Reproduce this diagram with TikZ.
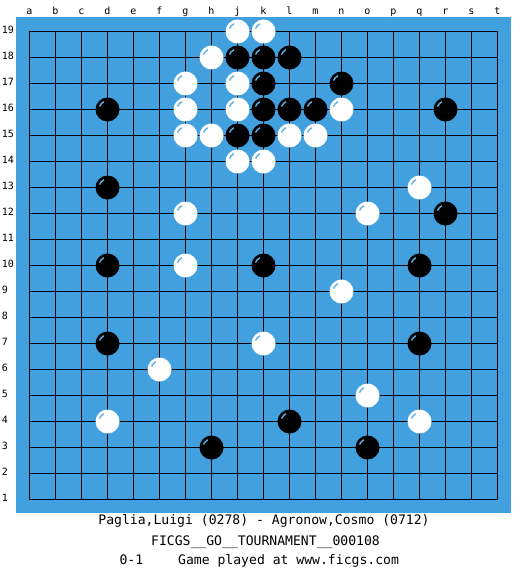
\documentclass[tikz,border=0pt]{standalone}
\usepackage{fontspec}
\setmainfont{DejaVu Sans Mono}
\usepackage{tikz}
\definecolor{board}{RGB}{66,160,222}
\definecolor{shine}{RGB}{96,176,232}
\tikzset{
lbl/.style={font=\fontsize{10}{12}\selectfont,inner sep=0pt},
info/.style={font=\fontsize{13.1}{15}\selectfont,inner sep=0pt},
gridline/.style={line width=1.5pt},
gloss/.style={shine,line width=1.4pt}
}

\begin{document}
\begin{tikzpicture}[x=1pt,y=-1pt]
\useasboundingbox (0,0) rectangle (525,575);
\fill[board] (16,17) rectangle (511,513);
\foreach \cl [count=\ci from 0] in {a,b,c,d,e,f,g,h,j,k,l,m,n,o,p,q,r,s,t}
{
\foreach \rw in {1,...,19}
{
\coordinate (\cl\rw) at (29.5+26*\ci,31.5+26*19-26*\rw);
}
\node[lbl,anchor=base] (col\cl) at (29.5+26*\ci,14.5) {\cl};
}
\foreach \rw in {1,...,19}
{
\node[lbl,anchor=base west] (row\rw) at (1.7,33.5+26*19-26*\rw) {\rw};
}
\foreach \cl in {a,b,c,d,e,f,g,h,j,k,l,m,n,o,p,q,r,s,t}
{
\draw[gridline] (\cl19) -- (\cl1);
}
\foreach \rw in {1,...,19}
{
\draw[gridline] (a\rw) -- (t\rw);
}
\foreach \x in {j18,k18,l18,k17,n17,d16,k16,l16,m16,r16,j15,k15,d13,r12,d10,k10,q10,d7,q7,l4,h3,o3}
{
\fill[black] (\x) circle (12pt);
\draw[gloss] ([shift={(160:8.5pt)}]\x) arc[start angle=160,end angle=115,radius=8.5pt];
}
\foreach \x in {j19,k19,h18,g17,j17,g16,j16,n16,g15,h15,l15,m15,j14,k14,q13,g12,o12,g10,n9,k7,f6,o5,d4,q4}
{
\fill[white] (\x) circle (12pt);
\draw[gloss] ([shift={(160:8.5pt)}]\x) arc[start angle=160,end angle=115,radius=8.5pt];
}
\node[info,anchor=base] (players) at (264,524.5) {Paglia,Luigi (0278) - Agronow,Cosmo (0712)};
\node[info,anchor=base] (event) at (265.5,545) {FICGS\_\_GO\_\_TOURNAMENT\_\_000108};
\node[info,anchor=base west] (result) at (119.3,564.5) {0-1\hspace{35pt}Game played at www.ficgs.com};

\end{tikzpicture}
\end{document}
